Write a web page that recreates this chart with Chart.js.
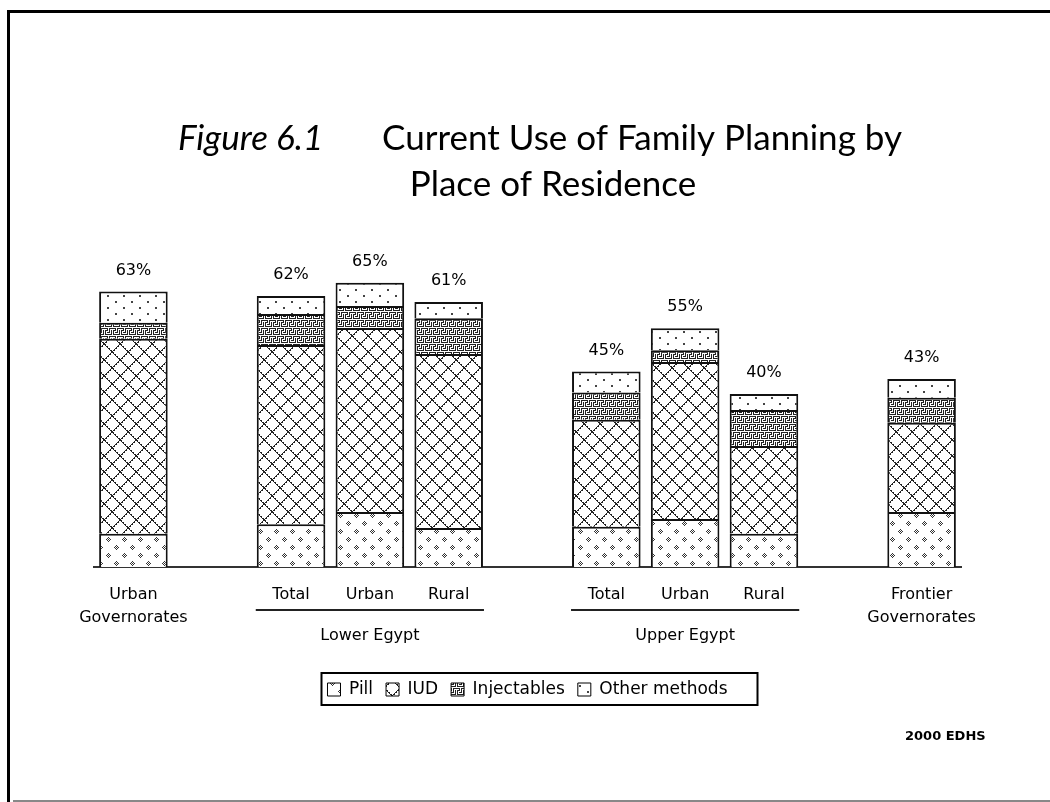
<!DOCTYPE html>
<html>
<head>
<meta charset="utf-8">
<script src="https://cdn.jsdelivr.net/npm/chart.js@4"></script>
<style>
  html, body { margin: 0; padding: 0; background: #fff; }
  #wrap { width: 1050px; height: 802px; }
</style>
</head>
<body>
<div id="wrap"><canvas id="methodChart" width="1050" height="802"></canvas></div>
<script>
// categories (empty slots are the gaps between the residence groups)
const categories = [['Urban', 'Governorates'], '', 'Total', 'Urban', 'Rural', '', 'Total', 'Urban', 'Rural', '', ['Frontier', 'Governorates']];

// percent of married women using each method
const pill         = [7.6, null, 9.8, 12.6, 8.9, null, 9.2, 11.0, 7.6, null, 12.6];
const iud          = [44.6, null, 41.0, 42.1, 39.8, null, 24.5, 35.9, 20.1, null, 20.4];
const injectables  = [3.7, null, 7.1, 5.0, 8.2, null, 6.2, 2.7, 8.2, null, 5.7];
const otherMethods = [7.1, null, 4.1, 5.3, 3.7, null, 4.8, 5.0, 3.7, null, 4.3];

// printed totals above the bars
const totalLabels = ['63%', '', '62%', '65%', '61%', '', '45%', '55%', '40%', '', '43%'];

const groups = [
    { name: 'Lower Egypt', first: 2, last: 4 },
    { name: 'Upper Egypt', first: 6, last: 8 }
];

const labelFont = '"DejaVu Sans", sans-serif';

// small bitmap tiles for the black & white fills
function makePattern(rows, color) {
    const c = document.createElement('canvas');
    c.width = rows[0].length;
    c.height = rows.length;
    const g = c.getContext('2d');
    g.fillStyle = '#fff';
    g.fillRect(0, 0, c.width, c.height);
    g.fillStyle = color;
    rows.forEach((r, y) => {
        for (let x = 0; x < r.length; x++) {
            if (r[x] === '#') g.fillRect(x, y, 1, 1);
        }
    });
    return g.createPattern(c, 'repeat');
}

function latticeRows(n) {
    const rows = [];
    for (let y = 0; y < n; y++) {
        let r = '';
        for (let x = 0; x < n; x++) {
            const onLine = x === y || x === n - 1 - y;
            const shadow = (y % 2 === 0) && (x === (y + 1) % n || x === (n - y) % n);
            r += (onLine || shadow) ? '#' : '.';
        }
        rows.push(r);
    }
    return rows;
}

const pillFill = makePattern([
    '................',
    '....#...........',
    '...#.#..........',
    '..#.#.#.........',
    '...#.#..........',
    '....#...........',
    '................',
    '................',
    '................',
    '............#...',
    '...........#.#..',
    '..........#.#.#.',
    '...........#.#..',
    '............#...',
    '................',
    '................'
], '#333');

const iudFill = makePattern(latticeRows(16), '#222');

const injFill = makePattern([
    '####.###',
    '...#.#..',
    '.###.#.#',
    '.#...#.#',
    '.#.###.#',
    '.#.....#',
    '.#######',
    '........'
], '#222');

const otherFill = makePattern([
    '................',
    '...##...........',
    '...##...........',
    '................',
    '................',
    '................',
    '................',
    '...........##...',
    '...........##...',
    '................',
    '................',
    '................'
], '#444');

const decorations = {
    id: 'decorations',
    afterDatasetsDraw(chart) {
        const { ctx, scales: { x, y } } = chart;
        ctx.save();
        ctx.fillStyle = '#000';
        ctx.font = '16px ' + labelFont;
        ctx.textAlign = 'center';
        ctx.textBaseline = 'bottom';
        totalLabels.forEach((t, i) => {
            if (!t) return;
            const sum = pill[i] + iud[i] + injectables[i] + otherMethods[i];
            ctx.fillText(t, x.getPixelForValue(i), y.getPixelForValue(sum) - 13);
        });
        ctx.restore();
    },
    afterDraw(chart) {
        const { ctx, scales: { x } } = chart;
        const bars = chart.getDatasetMeta(0).data;
        ctx.save();

        // frame
        ctx.fillStyle = '#000';
        ctx.fillRect(7, 10, 1043, 3);
        ctx.fillRect(7, 10, 3, 792);
        ctx.fillStyle = '#888';
        ctx.fillRect(13, 800, 1037, 2);

        // title
        ctx.fillStyle = '#000';
        ctx.textBaseline = 'alphabetic';
        ctx.textAlign = 'left';
        ctx.font = 'italic 35px Lato, sans-serif';
        ctx.fillText('Figure 6.1', 178, 150);
        ctx.font = '35px Lato, sans-serif';
        ctx.textAlign = 'right';
        ctx.fillText('Current Use of Family Planning by', 902, 150);
        ctx.textAlign = 'center';
        ctx.fillText('Place of Residence', 553, 196);

        // group underlines and names
        ctx.strokeStyle = '#222';
        ctx.lineWidth = 2;
        ctx.font = '16px ' + labelFont;
        ctx.textBaseline = 'middle';
        groups.forEach(gr => {
            const left = x.getPixelForValue(gr.first) - bars[gr.first].width / 2 - 1;
            const right = x.getPixelForValue(gr.last) + bars[gr.last].width / 2 + 1;
            ctx.beginPath();
            ctx.moveTo(left, 610);
            ctx.lineTo(right, 610);
            ctx.stroke();
            ctx.fillText(gr.name, (left + right) / 2, 636);
        });

        // box around the legend
        const hb = chart.legend.legendHitBoxes;
        if (hb && hb.length) {
            const l = Math.min(...hb.map(h => h.left));
            const r = Math.max(...hb.map(h => h.left + h.width));
            const t = Math.min(...hb.map(h => h.top));
            const b = Math.max(...hb.map(h => h.top + h.height));
            ctx.strokeStyle = '#000';
            ctx.lineWidth = 2;
            ctx.strokeRect(l - 6, t - 8, r - l + 36, b - t + 15);
        }

        // source
        ctx.font = 'bold 13px ' + labelFont;
        ctx.textAlign = 'left';
        ctx.fillText('2000 EDHS', 905, 737);
        ctx.restore();
    }
};

const ctx = document.getElementById('methodChart').getContext('2d');
const segment = {
    borderColor: '#111',
    borderWidth: { top: 2, bottom: 0, left: 2, right: 2 },
    borderSkipped: false,
    barPercentage: 0.87,
    categoryPercentage: 1
};

new Chart(ctx, {
    type: 'bar',
    data: {
        labels: categories,
        datasets: [
            { label: 'Pill', data: pill, backgroundColor: pillFill, ...segment },
            { label: 'IUD', data: iud, backgroundColor: iudFill, ...segment },
            { label: 'Injectables', data: injectables, backgroundColor: injFill, ...segment },
            { label: 'Other methods', data: otherMethods, backgroundColor: otherFill, ...segment }
        ]
    },
    options: {
        responsive: false,
        animation: false,
        layout: { padding: { top: 261, left: 94, right: 89, bottom: 94 } },
        plugins: {
            tooltip: { enabled: false },
            legend: {
                position: 'bottom',
                labels: {
                    boxWidth: 13,
                    boxHeight: 13,
                    padding: 13,
                    color: '#000',
                    font: { family: 'DejaVu Sans', size: 17 },
                    generateLabels: chart => chart.data.datasets.map((ds, i) => ({
                        text: ds.label,
                        fillStyle: ds.backgroundColor,
                        strokeStyle: '#000',
                        lineWidth: 1,
                        fontColor: '#000',
                        datasetIndex: i,
                        hidden: false
                    }))
                }
            }
        },
        scales: {
            x: {
                stacked: true,
                grid: { display: false, drawTicks: false },
                border: { display: true, color: '#333', width: 2 },
                ticks: {
                    color: '#000',
                    padding: 17,
                    maxRotation: 0,
                    autoSkip: false,
                    font: { family: 'DejaVu Sans', size: 16, lineHeight: 1.4 }
                },
                afterFit: scale => { scale.height = 101; }
            },
            y: {
                stacked: true,
                display: false,
                min: 0,
                max: 70
            }
        }
    },
    plugins: [decorations]
});
</script>
</body>
</html>
